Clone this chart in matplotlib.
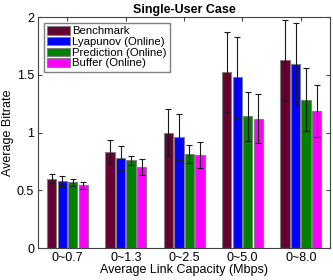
import matplotlib
matplotlib.use("Agg")
import matplotlib.pyplot as plt
import numpy as np

plt.rcParams['font.family'] = ['Liberation Sans', 'DejaVu Sans']

categories = ["0~0.7", "0~1.3", "0~2.5", "0~5.0", "0~8.0"]
series_names = ["Benchmark", "Lyapunov (Online)", "Prediction (Online)", "Buffer (Online)"]
benchmark = [0.60, 0.83, 1.00, 1.525, 1.625]
lyapunov = [0.58, 0.78, 0.96, 1.48, 1.59]
prediction = [0.57, 0.76, 0.815, 1.14, 1.285]
buffer_ = [0.545, 0.70, 0.805, 1.12, 1.19]
benchmark_err = [0.04, 0.105, 0.20, 0.35, 0.35]
lyapunov_err = [0.04, 0.10, 0.20, 0.35, 0.355]
prediction_err = [0.03, 0.04, 0.075, 0.215, 0.275]
buffer_err = [0.03, 0.07, 0.115, 0.21, 0.225]
colors = ["#660033", "#0000ff", "#008000", "#ff00ff"]

values = [benchmark, lyapunov, prediction, buffer_]
errs = [benchmark_err, lyapunov_err, prediction_err, buffer_err]

fig = plt.figure(figsize=(3.33, 2.8), dpi=100)
ax = fig.add_axes([0.115, 0.114, 0.876, 0.825])

x = np.arange(1, len(categories) + 1)
pitch = 0.18
width = 0.16
for i, (vals, err, c, name) in enumerate(zip(values, errs, colors, series_names)):
    pos = x + (i - 1.5) * pitch
    ax.bar(pos, vals, width=width, color=c, edgecolor="#808080", linewidth=0.8, label=name, zorder=2)
    ax.errorbar(pos, vals, yerr=err, fmt='none', ecolor="#1a1a1a", elinewidth=0.8,
                capsize=2.5, capthick=0.8, zorder=3)

ax.set_xlim(0.5, 5.5)
ax.set_ylim(0, 2)
ax.set_xticks(x)
ax.set_xticklabels(categories)
ax.set_yticks([0, 0.5, 1, 1.5, 2])
ax.set_yticklabels(["0", "0.5", "1", "1.5", "2"])
ax.tick_params(direction='in', top=True, right=True, labelsize=9, length=3, color="#444444", pad=3)
for s in ax.spines.values():
    s.set_color("#444444")
    s.set_linewidth(0.8)
ax.set_title("Single-User Case", fontsize=9, fontweight='bold', pad=3)
ax.set_xlabel("Average Link Capacity (Mbps)", fontsize=9, labelpad=0)
ax.set_ylabel("Average Bitrate", fontsize=9, labelpad=2)

leg = ax.legend(loc='upper left', fontsize=8.2, frameon=True, fancybox=False,
                edgecolor="#808080", framealpha=1, borderpad=0.3, labelspacing=0.05,
                handlelength=2.0, handleheight=0.75, handletextpad=0.2, borderaxespad=0.5)
leg.get_frame().set_linewidth(1.0)

fig.savefig("out.png", dpi=100)
